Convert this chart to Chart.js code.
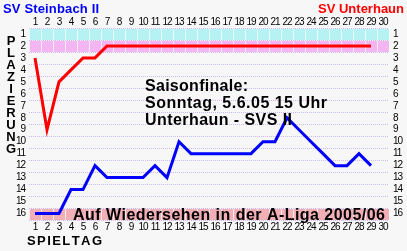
<!DOCTYPE html>
<html><head><meta charset="utf-8">
<script src="https://cdn.jsdelivr.net/npm/chart.js@4"></script>
<style>html,body{margin:0;padding:0;background:#f7f7f7;}canvas{display:block}</style>
</head><body>
<canvas id="c" width="407" height="251" style="width:407px;height:251px"></canvas>
<script>
// ---- data ----
const spieltage = ['1','2','3','4','5','6','7','8','9','10','11','12','13','14','15','16','17','18','19','20','21','22','23','24','25','26','27','28','29','30'];
const platzierungen = [1,2,3,4,5,6,7,8,9,10,11,12,13,14,15,16];
const unterhaun = [3,9,5,4,3,3,2,2,2,2,2,2,2,2,2,2,2,2,2,2,2,2,2,2,2,2,2,2,2];
const steinbach = [16,16,16,14,14,12,13,13,13,13,12,13,10,11,11,11,11,11,11,10,10,8,9,10,11,12,12,11,12];
const teamLinks = 'SV Steinbach II';
const teamRechts = 'SV Unterhaun';
const yTitel = 'PLAZIERUNG';
const xTitel = 'SPIELTAG';
const hinweis = ['Saisonfinale:', 'Sonntag, 5.6.05 15 Uhr', 'Unterhaun - SVS II'];
const banner = 'Auf Wiedersehen in der A-Liga 2005/06';

const FAM = "'Liberation Sans', Arial, Helvetica, sans-serif";

function fitText(ctx, text, x, y, width) {
  const chars = [...text];
  const adv = chars.map(ch => ctx.measureText(ch).width);
  const natural = adv.reduce((a, b) => a + b, 0);
  const extra = chars.length > 1 ? (width - natural) / (chars.length - 1) : 0;
  let cx = x;
  chars.forEach((ch, i) => { ctx.fillText(ch, cx, y); cx += adv[i] + extra; });
}

const deko = {
  id: 'deko',
  beforeDraw(chart) {
    const ctx = chart.ctx, xs = chart.scales.x, ys = chart.scales.y, a = chart.chartArea;
    ctx.save();
    ctx.fillStyle = '#f7f7f7';
    ctx.fillRect(0, 0, chart.width, chart.height);
    for (let b = 0.5; b <= 16.5; b += 1) {
      const y = Math.round(ys.getPixelForValue(b)) + 0.5;
      ctx.lineWidth = 1;
      ctx.setLineDash([1, 3]);
      ctx.strokeStyle = '#f0a8f0';
      ctx.lineDashOffset = 0;
      ctx.beginPath(); ctx.moveTo(a.left, y); ctx.lineTo(a.right, y); ctx.stroke();
      ctx.strokeStyle = '#a8c8f8';
      ctx.lineDashOffset = 2;
      ctx.beginPath(); ctx.moveTo(a.left, y); ctx.lineTo(a.right, y); ctx.stroke();
    }
    ctx.setLineDash([]);
    const bands = [[1, '#b4f2f4'], [2, '#f4b6f2'], [16, '#f2b0b6']];
    const cw = xs.getPixelForValue(1) - xs.getPixelForValue(0);
    bands.forEach(([r, col]) => {
      const y0 = Math.round(ys.getPixelForValue(r - 0.5)), y1 = Math.round(ys.getPixelForValue(r + 0.5));
      ctx.fillStyle = col;
      ctx.fillRect(a.left, y0 + 1, a.right - a.left, y1 - y0 - 1);
      ctx.fillStyle = 'rgba(255,255,255,0.75)';
      for (let i = 0; i <= spieltage.length; i++) {
        const x = Math.round(xs.getPixelForValue(0) - cw / 2 + i * cw);
        ctx.fillRect(x, y0 + 1, 1, y1 - y0 - 1);
      }
    });
    ctx.restore();
    ctx.letterSpacing = '-1px';
  },
  afterDatasetsDraw(chart) {
    const ctx = chart.ctx;
    ctx.save();
    ctx.letterSpacing = '0px';
    ctx.textBaseline = 'alphabetic';
    ctx.textAlign = 'left';
    ctx.font = 'bold 13px ' + FAM;
    ctx.fillStyle = '#0000ff';
    fitText(ctx, teamLinks, 3, 12.5, 96);
    ctx.fillStyle = '#ff0000';
    fitText(ctx, teamRechts, 318, 12.5, 86);
    ctx.fillStyle = '#000';
    ctx.font = 'bold 16px ' + FAM;
    fitText(ctx, hinweis[0], 145, 91, 103);
    fitText(ctx, hinweis[1], 145, 108, 182);
    fitText(ctx, hinweis[2], 145, 125, 147);
    ctx.font = 'bold 16px ' + FAM;
    fitText(ctx, banner, 73, 220, 312);
    ctx.font = 'bold 13px ' + FAM;
    fitText(ctx, xTitel, 27, 245, 75);
    ctx.textAlign = 'center';
    ctx.textBaseline = 'middle';
    [...yTitel].forEach((ch, i) => ctx.fillText(ch, 11, 41.5 + 11.97 * i));
    ctx.restore();
  }
};

const tickFont = { family: FAM, size: 10 };
function yScale(pos, w) {
  return {
    type: 'linear', position: pos, reverse: true, min: 0.5, max: 16.5,
    grid: { display: false, drawTicks: false }, border: { display: false },
    afterBuildTicks(s) { s.ticks = platzierungen.map(v => ({ value: v })); },
    ticks: { color: '#000', font: tickFont, padding: 4, autoSkip: false },
    afterFit(s) { s.width = w; }
  };
}
function xScale(pos, h, pad) {
  return {
    type: 'category', position: pos, labels: spieltage, offset: true,
    grid: { display: false, drawTicks: false }, border: { display: false },
    ticks: { color: '#000', font: tickFont, padding: pad, autoSkip: false, maxRotation: 0 },
    afterFit(s) { s.height = h; }
  };
}

new Chart(document.getElementById('c'), {
  type: 'line',
  data: {
    labels: spieltage,
    datasets: [
      { label: teamRechts, data: unterhaun, borderColor: '#ff0000', borderWidth: 3, pointRadius: 0, fill: false, tension: 0, xAxisID: 'x', yAxisID: 'y' },
      { label: teamLinks, data: steinbach, borderColor: '#0000ff', borderWidth: 3, pointRadius: 0, fill: false, tension: 0, xAxisID: 'x', yAxisID: 'y' }
    ]
  },
  options: {
    responsive: false, animation: false, devicePixelRatio: 1,
    layout: { padding: 0 },
    plugins: { legend: { display: false }, tooltip: { enabled: false }, title: { display: false } },
    scales: {
      x: xScale('bottom', 31.5, 2),
      x2: xScale('top', 28, 0),
      y: yScale('left', 29),
      y2: yScale('right', 18)
    }
  },
  plugins: [deko]
});
</script>
</body></html>
